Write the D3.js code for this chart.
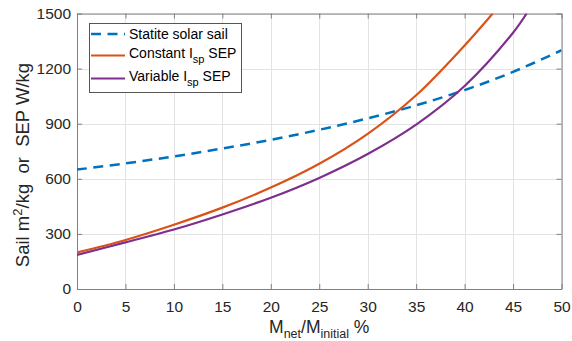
<!DOCTYPE html>
<html>
<head>
<meta charset="utf-8">
<script src="https://cdn.jsdelivr.net/npm/d3@7"></script>
<style>
  html, body { margin: 0; padding: 0; background: #fff; }
  svg { display: block; font-family: "Liberation Sans", Arial, Helvetica, sans-serif; }
</style>
</head>
<body>
<svg id="chart" width="572" height="341"></svg>
<script>
// Net mass fraction (%) along the x axis
const massFraction = [0, 5, 10, 15, 20, 25, 30, 35, 40, 45, 50];
// Statite solar sail loading, m^2/kg
const statiteSail = [650, 684, 722, 765, 812, 867, 929, 1000, 1083, 1182, 1300];
// Constant Isp SEP, W/kg
const constantX = [0, 5, 10, 15, 20, 25, 30, 35, 40, 42.9];
const constantSEP = [199, 267, 350, 443, 552, 682, 845, 1055, 1326, 1500];
// Variable Isp SEP, W/kg
const variableX = [0, 5, 10, 15, 20, 25, 30, 35, 40, 45, 46.4];
const variableSEP = [186, 254, 324, 406, 497, 605, 735, 895, 1105, 1395, 1500];

const xTicks = [0, 5, 10, 15, 20, 25, 30, 35, 40, 45, 50];
const yTicks = [0, 300, 600, 900, 1200, 1500];

const colors = { blue: "#0072BD", orange: "#D95319", purple: "#7E2F8E" };

const svg = d3.select("#chart");
const L = 77, R = 561.5, T = 13.5, B = 289;
const x = d3.scaleLinear().domain([0, 50]).range([L, R]);
const y = d3.scaleLinear().domain([0, 1500]).range([B, T]);

// grid
const grid = svg.append("g").attr("stroke", "#e3e3e3").attr("stroke-width", 1);
xTicks.forEach(t => grid.append("line")
  .attr("x1", Math.round(x(t)) + 0.5).attr("x2", Math.round(x(t)) + 0.5)
  .attr("y1", T).attr("y2", B));
yTicks.forEach(t => grid.append("line")
  .attr("y1", Math.round(y(t)) + 0.5).attr("y2", Math.round(y(t)) + 0.5)
  .attr("x1", L).attr("x2", R));

// axes with inward ticks
const tickLen = 5;
const axisColor = "#808080";
const fmt = d3.format("d");
const xb = svg.append("g").attr("transform", `translate(0,${B})`)
  .call(d3.axisBottom(x).tickValues(xTicks).tickFormat(fmt).tickSizeInner(-tickLen).tickSizeOuter(0).tickPadding(12));
const xt = svg.append("g").attr("transform", `translate(0,${T})`)
  .call(d3.axisTop(x).tickValues(xTicks).tickSizeInner(-tickLen).tickSizeOuter(0).tickFormat(""));
const yl = svg.append("g").attr("transform", `translate(${L},0)`)
  .call(d3.axisLeft(y).tickValues(yTicks).tickFormat(fmt).tickSizeInner(-tickLen).tickSizeOuter(0).tickPadding(6));
const yr = svg.append("g").attr("transform", `translate(${R},0)`)
  .call(d3.axisRight(y).tickValues(yTicks).tickSizeInner(-tickLen).tickSizeOuter(0).tickFormat(""));
[xb, xt, yl, yr].forEach(g => {
  g.selectAll(".domain").attr("stroke", axisColor);
  g.selectAll(".tick line").attr("stroke", axisColor);
  g.selectAll("text").attr("fill", "#262626").style("font-size", "15.5px")
    .style("font-family", "'Liberation Sans', Arial, sans-serif");
});

// data lines
svg.append("clipPath").attr("id", "plotclip")
  .append("rect").attr("x", L).attr("y", T).attr("width", R - L).attr("height", B - T);
const line = d3.line().x(d => x(d[0])).y(d => y(d[1])).curve(d3.curveCatmullRom.alpha(0.5));
const plot = svg.append("g").attr("clip-path", "url(#plotclip)");

plot.append("path").datum(d3.zip(massFraction, statiteSail))
  .attr("d", line).attr("fill", "none").attr("stroke", colors.blue)
  .attr("stroke-width", 2.5).attr("stroke-dasharray", "10,6.5");
plot.append("path").datum(d3.zip(constantX, constantSEP))
  .attr("d", line).attr("fill", "none").attr("stroke", colors.orange)
  .attr("stroke-width", 2.2);
plot.append("path").datum(d3.zip(variableX, variableSEP))
  .attr("d", line).attr("fill", "none").attr("stroke", colors.purple)
  .attr("stroke-width", 2.2);

// axis titles
const xLabel = svg.append("text").attr("x", (L + R) / 2).attr("y", 333)
  .attr("text-anchor", "middle").attr("fill", "#262626").style("font-size", "17.5px");
xLabel.append("tspan").text("M");
xLabel.append("tspan").attr("dy", 5).style("font-size", "12.5px").text("net");
xLabel.append("tspan").attr("dy", -5).text("/M");
xLabel.append("tspan").attr("dy", 5).style("font-size", "12.5px").text("initial");
xLabel.append("tspan").attr("dy", -5).text("\u00a0%");

const yLabel = svg.append("text")
  .attr("transform", `translate(29,165) rotate(-90)`)
  .attr("text-anchor", "middle").attr("fill", "#262626").style("font-size", "18.5px");
yLabel.append("tspan").text("Sail m");
yLabel.append("tspan").attr("dy", -7).style("font-size", "13px").text("2");
yLabel.append("tspan").attr("dy", 7).text("/kg\u00a0\u00a0or\u00a0\u00a0SEP W/kg");

// legend
const legend = svg.append("g");
legend.append("rect").attr("x", 89.5).attr("y", 23.5).attr("width", 152).attr("height", 69)
  .attr("fill", "#fff").attr("stroke", "#555").attr("stroke-width", 1);
const entries = [
  { name: ["Statite solar sail"], color: colors.blue, dash: "10,6.5", w: 2.5, yLine: 34, yText: 39 },
  { name: ["Constant I", "sp", " SEP"], color: colors.orange, dash: null, w: 2.2, yLine: 55.5, yText: 58 },
  { name: ["Variable I", "sp", " SEP"], color: colors.purple, dash: null, w: 2.2, yLine: 78.5, yText: 81 }
];
entries.forEach(e => {
  legend.append("line").attr("x1", 91).attr("x2", 125).attr("y1", e.yLine).attr("y2", e.yLine)
    .attr("stroke", e.color).attr("stroke-width", e.w)
    .attr("stroke-dasharray", e.dash);
  const t = legend.append("text").attr("x", 129).attr("y", e.yText)
    .attr("fill", "#000").style("font-size", "14px");
  t.append("tspan").text(e.name[0]);
  if (e.name.length > 1) {
    t.append("tspan").attr("dy", 5).style("font-size", "11px").text(e.name[1]);
    t.append("tspan").attr("dy", -5).text("\u00a0" + e.name[2].trim());
  }
});
</script>
</body>
</html>
